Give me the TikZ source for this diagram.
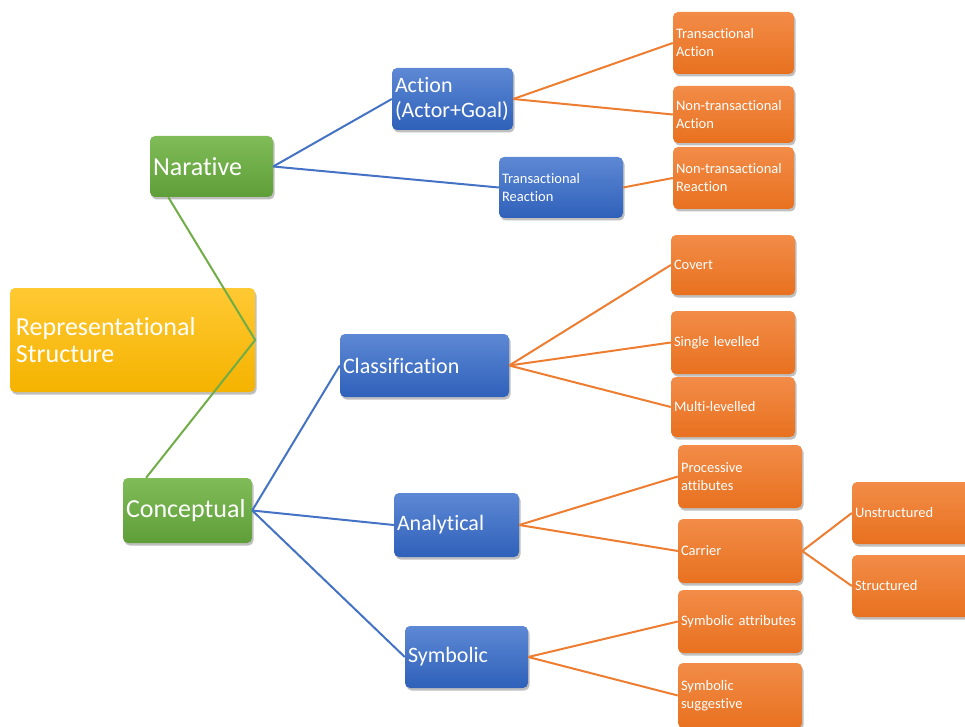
\documentclass[tikz,border=0pt]{standalone}
\usepackage{fontspec}
\setmainfont{Carlito}[Ligatures=NoCommon]
\usetikzlibrary{shadows,calc}
\newcommand\mysmallfont{\fontsize{14.5}{18}\selectfont\spaceskip=3.2pt plus 1pt\relax}
\definecolor{gtop}{HTML}{80BC58}
\definecolor{gbot}{HTML}{5E9E38}
\definecolor{btop}{HTML}{5D88D4}
\definecolor{bbot}{HTML}{2F61BA}
\definecolor{otop}{HTML}{F28C48}
\definecolor{obot}{HTML}{E8711F}
\definecolor{ytop}{HTML}{FFC933}
\definecolor{ybot}{HTML}{F5B300}
\definecolor{gline}{HTML}{70AD47}
\definecolor{bline}{HTML}{4472C4}
\definecolor{oline}{HTML}{ED7D31}
\tikzset{
  box/.style={rectangle, rounded corners=5pt, inner xsep=3pt, inner ysep=0pt,
    text=white, align=left,
    drop shadow={shadow xshift=1.5pt, shadow yshift=-2.5pt, opacity=0.25, fill=black}},
  bx/.style 2 args={text width=#1, minimum height=#2},
  big/.style={font=\fontsize{26}{27}\selectfont},
  mid/.style={font=\fontsize{22}{25}\selectfont},
  small/.style={font=\mysmallfont},
  gbox/.style={box, top color=gtop, bottom color=gbot},
  bbox/.style={box, top color=btop, bottom color=bbot},
  obox/.style={box, small, top color=otop, bottom color=obot},
  ybox/.style={box, top color=ytop, bottom color=ybot},
  gl/.style={draw=gline, line width=2pt},
  bl/.style={draw=bline, line width=2pt},
  ol/.style={draw=oline, line width=2pt},
}
\begin{document}
\begin{tikzpicture}[x=1pt,y=-1pt]
\useasboundingbox (0,0) rectangle (965,727);
% level 0 and 1
\node[ybox, big, inner xsep=6pt, bx={233pt}{104pt}] (rep) at (132.5,340) {Representational\\Structure};
\node[gbox, big, bx={117pt}{61pt}] (nar) at (211.5,166.5) {Narative};
\node[gbox, big, bx={123pt}{65pt}] (con) at (187.5,510.5) {Conceptual};
% level 2
\node[bbox, mid, bx={115pt}{62pt}] (act) at (452.5,99) {Action\\(Actor+Goal)};
\node[bbox, small, bx={118pt}{61pt}] (tr) at (561,187.5) {Transactional\\Reaction};
\node[bbox, mid, bx={163pt}{63pt}] (cls) at (424.5,365.5) {Classification};
\node[bbox, mid, bx={119pt}{64pt}] (ana) at (456.5,525) {Analytical};
\node[bbox, mid, bx={117pt}{62pt}] (sym) at (466.5,657) {Symbolic};
% level 3
\node[obox, bx={115pt}{62pt}] (ta) at (733.5,43) {Transactional\\Action};
\node[obox, bx={115pt}{57pt}] (nta) at (733.5,114.5) {Non-transactional\\Action};
\node[obox, bx={115pt}{62pt}] (ntr) at (733.5,178) {Non-transactional\\Reaction};
\node[obox, bx={118pt}{60pt}] (cov) at (733,265) {Covert};
\node[obox, bx={118pt}{63pt}] (sl) at (733,342.5) {Single levelled};
\node[obox, bx={118pt}{60pt}] (ml) at (733,407) {Multi-levelled};
\node[obox, bx={118pt}{63pt}] (pro) at (740,476.5) {Processive\\attibutes};
\node[obox, bx={118pt}{64pt}] (car) at (740,551) {Carrier};
\node[obox, bx={118pt}{63pt}] (sa) at (740,621.5) {Symbolic attributes};
\node[obox, bx={118pt}{65pt}] (ss) at (740,695.5) {Symbolic\\suggestive};
% level 4
\node[obox, bx={117pt}{62pt}] (uns) at (913.5,513) {Unstructured};
\node[obox, bx={117pt}{62pt}] (str) at (913.5,586) {Structured};
% connectors
\coordinate (narb) at ($(nar.south west)!0.15!(nar.south east)$);
\coordinate (cont) at ($(con.north west)!0.18!(con.north east)$);
\draw[gl] (narb) -- (rep.east) -- (cont);
\draw[bl] (nar.east) -- (act.west);
\draw[bl] (nar.east) -- (tr.west);
\draw[bl] (con.east) -- (cls.west);
\draw[bl] (con.east) -- (ana.west);
\draw[bl] (con.east) -- (sym.west);
\draw[ol] (act.east) -- (ta.west);
\draw[ol] (act.east) -- (nta.west);
\draw[ol] (tr.east) -- (ntr.west);
\draw[ol] (cls.east) -- (cov.west);
\draw[ol] (cls.east) -- (sl.west);
\draw[ol] (cls.east) -- (ml.west);
\draw[ol] (ana.east) -- (pro.west);
\draw[ol] (ana.east) -- (car.west);
\draw[ol] (car.east) -- (uns.west);
\draw[ol] (car.east) -- (str.west);
\draw[ol] (sym.east) -- (sa.west);
\draw[ol] (sym.east) -- (ss.west);
\end{tikzpicture}
\end{document}
